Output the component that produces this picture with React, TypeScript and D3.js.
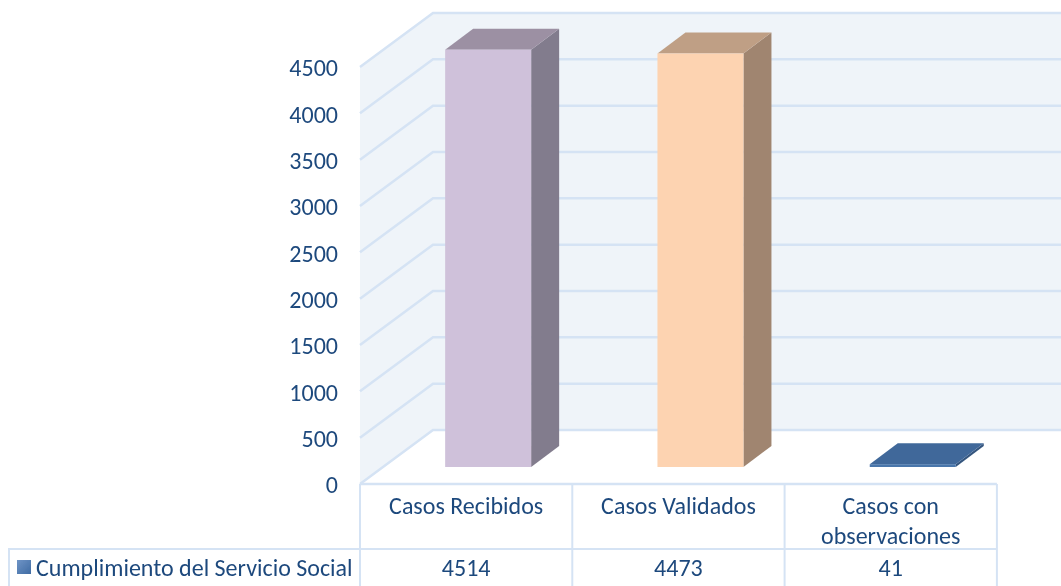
import React from 'react';
import * as d3 from 'd3';

const categories = [['Casos Recibidos'], ['Casos Validados'], ['Casos con', 'observaciones']];
const values = [4514, 4473, 41];
const tableValues = ['4514', '4473', '41'];
const ticks = [0, 500, 1000, 1500, 2000, 2500, 3000, 3500, 4000, 4500];
const seriesName = 'Cumplimiento del Servicio Social';
const frontColors = ['#cfc1da', '#fdd3b1', '#4a76ab'];
const topColors = ['#9c90a3', '#bf9f85', '#40689a'];
const sideColors = ['#827c8d', '#a08570', '#34557e'];

const width = 1061;
const height = 586;
const textColor = '#1f497d';
const gridColor = '#d5e3f4';
const font = 'Carlito, Calibri, Lato, "Open Sans", sans-serif';

// front plane of the chart box and the offset to the back wall
const x0 = 360;
const bandW = 212.3;
const depthX = 73;
const depthY = -54;
const y = d3.scaleLinear().domain([0, 4500]).range([484, 67]);
const x = d3.scaleBand<number>().domain(d3.range(categories.length)).range([x0, x0 + bandW * 3]);

const pts = (p: number[][]) => p.map(d => d.join(',')).join(' ');

export default function App() {
	const barW = 86;
	const barShiftX = 23; // bars stand a bit behind the front plane
	const barShiftY = -17;
	const barDX = 28;
	const barDY = -21;
	const tableRows = [484, 549, 586];

	return (
		<svg width={width} height={height} viewBox={`0 0 ${width} ${height}`}
			style={{ position: 'absolute', left: 0, top: 0, display: 'block' }} fontFamily={font}>
			<defs>
				<filter id="soft" x="-5%" y="-5%" width="110%" height="110%">
					<feGaussianBlur stdDeviation="0.7" />
				</filter>
				<filter id="softText" x="-5%" y="-5%" width="110%" height="110%">
					<feGaussianBlur stdDeviation="0.3" />
				</filter>
				<linearGradient id="swatch" x1="0" y1="0" x2="1" y2="1">
					<stop offset="0" stopColor="#6f94c6" />
					<stop offset="1" stopColor="#3f6ba3" />
				</linearGradient>
			</defs>

			<g filter="url(#soft)">
				{/* walls */}
				<polygon points={pts([[x0, y(4500)], [x0 + depthX, y(4500) + depthY], [width + 10, y(4500) + depthY], [width + 10, y(0) + depthY], [x0 + depthX, y(0) + depthY], [x0, y(0)]])} fill="#eff4f9" />
				{ticks.map(t => (
					<polyline key={t} fill="none" stroke={gridColor} strokeWidth={2.5}
						points={pts([[x0, y(t)], [x0 + depthX, y(t) + depthY], [width + 10, y(t) + depthY]])} />
				))}
				{/* bars */}
				{values.map((v, i) => {
					const left = x(i)! + (bandW - barW) / 2 + barShiftX - 1;
					const right = left + barW;
					const bottom = y(0) + barShiftY;
					const top = y(v) + barShiftY + 1;
					return (
						<g key={i}>
							<polygon fill={sideColors[i]} points={pts([[right, top], [right + barDX, top + barDY], [right + barDX, bottom + barDY], [right, bottom]])} />
							<polygon fill={topColors[i]} points={pts([[left, top], [left + barDX, top + barDY], [right + barDX, top + barDY], [right, top]])} />
							<rect x={left} y={top} width={barW} height={bottom - top} fill={frontColors[i]} />
						</g>
					);
				})}
				{/* data table lines */}
				<line x1={x0} x2={x0 + bandW * 3} y1={tableRows[0]} y2={tableRows[0]} stroke={gridColor} strokeWidth={2.5} />
				<line x1={8} x2={x0 + bandW * 3} y1={tableRows[1]} y2={tableRows[1]} stroke={gridColor} strokeWidth={2} />
				<line x1={9} x2={9} y1={tableRows[1]} y2={tableRows[2] + 5} stroke={gridColor} strokeWidth={2} />
				{d3.range(categories.length + 1).map(i => (
					<line key={i} x1={x0 + bandW * i} x2={x0 + bandW * i} y1={tableRows[0]} y2={tableRows[2] + 5} stroke={gridColor} strokeWidth={2} />
				))}
				<rect x={17} y={560} width={14} height={14} fill="url(#swatch)" />
			</g>

			<g filter="url(#softText)" fontSize={24} fill={textColor}>
				{/* axis labels */}
				{ticks.map(t => (
					<text key={t} x={338} y={y(t) + 1} dy="0.35em" textAnchor="end">{t}</text>
				))}
				{/* table text */}
				{categories.map((lines, i) => (
					<text key={i} textAnchor="middle">
						{lines.map((l, j) => (
							<tspan key={j} x={x(i)! + bandW / 2} y={514 + j * 30}>{l}</tspan>
						))}
					</text>
				))}
				{tableValues.map((v, i) => (
					<text key={i} x={x(i)! + bandW / 2} y={575.5} textAnchor="middle">{v}</text>
				))}
				<text x={36} y={575.5}>{seriesName}</text>
			</g>
		</svg>
	);
}
